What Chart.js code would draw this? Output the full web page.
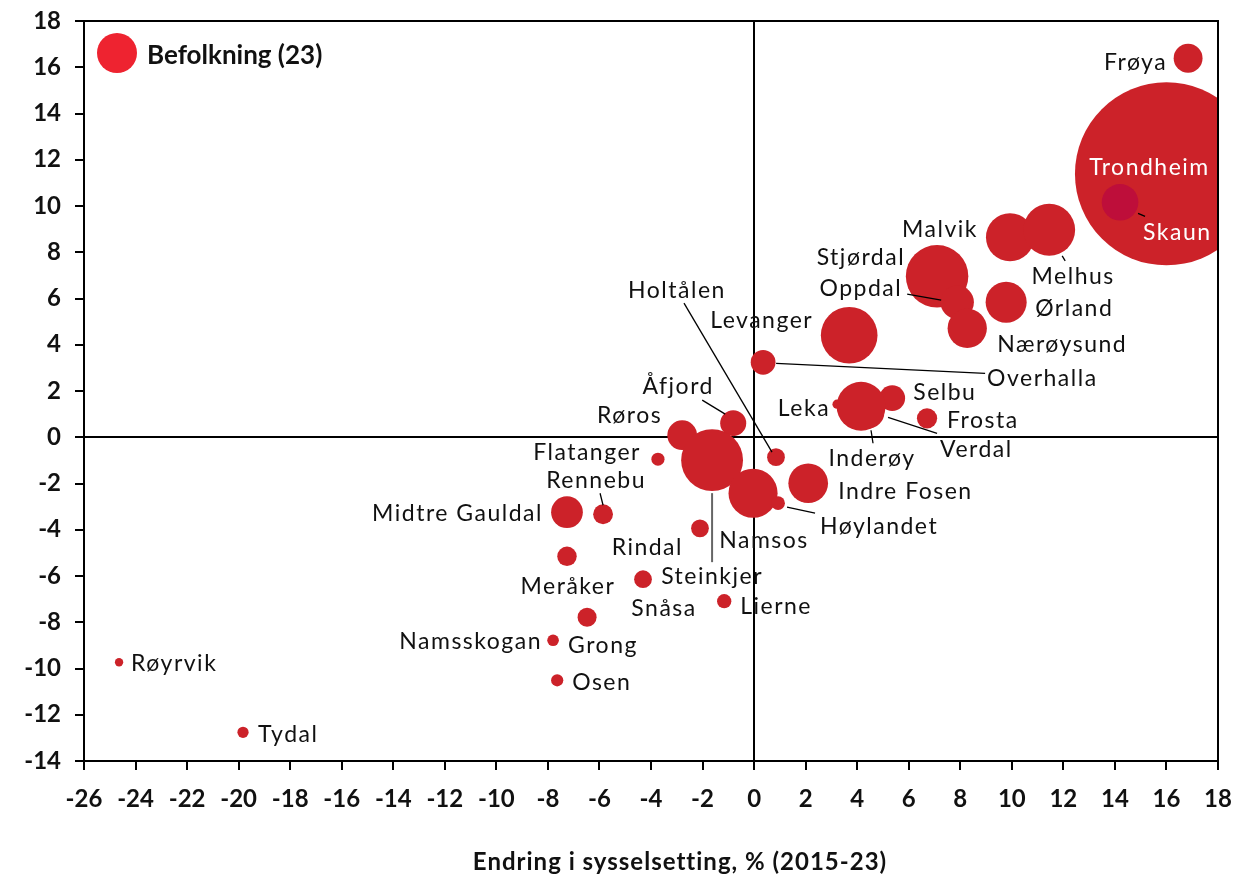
<!DOCTYPE html>
<html><head><meta charset="utf-8">
<script src="https://cdn.jsdelivr.net/npm/chart.js@4/dist/chart.umd.min.js"></script>
<style>html,body{margin:0;padding:0;background:#fff}#wrap{width:1235px;height:878px}</style>
</head><body><div id="wrap"><canvas id="c" width="1235" height="878"></canvas></div>
<script>
// ---- Data ----
const municipalities = ['Trondheim','Frøya','Skaun','Malvik','Melhus','Stjørdal','Oppdal','Ørland','Nærøysund','Levanger','Overhalla','Selbu','Frosta','Leka','Inderøy','Verdal','Åfjord','Røros','Steinkjer','Namsos','Holtålen','Høylandet','Indre Fosen','Flatanger','Midtre Gauldal','Rennebu','Rindal','Meråker','Snåsa','Lierne','Grong','Namsskogan','Osen','Røyrvik','Tydal'];
const employmentChange = [16.0,16.84,14.2,9.93,11.45,7.1,7.88,9.78,8.27,3.69,0.35,5.36,6.71,3.22,4.42,4.15,-0.81,-2.79,-1.63,-0.04,0.85,0.93,2.1,-3.73,-7.26,-5.86,-2.1,-7.26,-4.31,-1.16,-6.48,-7.8,-7.64,-24.64,-19.83];
const populationChange = [11.39,16.39,10.16,8.65,8.97,6.96,5.84,5.84,4.71,4.41,3.24,1.69,0.82,1.43,1.08,1.34,0.61,0.09,-0.99,-2.42,-0.86,-2.85,-1.99,-0.95,-3.24,-3.33,-3.94,-5.15,-6.14,-7.09,-7.78,-8.78,-10.51,-9.73,-12.76];
const population2023 = [212700,5300,8500,14700,17100,24800,7100,10700,9800,20400,3900,4200,2600,550,6800,15200,4300,5600,24300,15300,2000,1200,10000,1100,6400,2500,2000,2400,2000,1300,2300,860,950,440,800];
const xRange = [-26, 18];
const yRange = [-14, 18];
const tickStep = 2;
const legendLabel = 'Befolkning (23)';
const xAxisTitle = 'Endring i sysselsetting, % (2015-23)';

// ---- Layout / style (label placement in pixels relative to bubble) ----
const labelLayout = {
  'Frøya':{dx:-21,dy:4,align:'right'},
  'Trondheim':{dx:-17,dy:-6,align:'center',color:'#fff'},
  'Skaun':{dx:23,dy:30,align:'left',color:'#fff',line:[18,11,25,14]},
  'Malvik':{dx:-32,dy:-8,align:'right'},
  'Melhus':{dx:24,dy:47,align:'center',line:[13,26,16,31]},
  'Stjørdal':{dx:-32,dy:-19,align:'right'},
  'Oppdal':{dx:-55,dy:-14,align:'right',line:[-50,-8,-16,-2]},
  'Ørland':{dx:29,dy:6,align:'left'},
  'Nærøysund':{dx:30,dy:16,align:'left'},
  'Levanger':{dx:-36,dy:-15,align:'right'},
  'Overhalla':{dx:224,dy:16,align:'left',line:[13,1,222,11]},
  'Holtålen':{dx:-99,dy:-167,align:'center',line:[-92,-154,-4,-5]},
  'Selbu':{dx:21,dy:-6,align:'left'},
  'Frosta':{dx:20,dy:2,align:'left'},
  'Leka':{dx:-7,dy:4,align:'right'},
  'Verdal':{dx:79,dy:43,align:'left',line:[27,11,76,27]},
  'Inderøy':{dx:4,dy:46,align:'center',line:[3,18,5,31]},
  'Åfjord':{dx:-55,dy:-37,align:'center',line:[-31,-23,-8,-9]},
  'Røros':{dx:-20,dy:-20,align:'right'},
  'Steinkjer':{dx:0,dy:116,align:'center',line:[0,33,0,102],lineColor:'#666'},
  'Namsos':{dx:11,dy:47,align:'center'},
  'Høylandet':{dx:42,dy:23,align:'left',line:[9,4,37,10]},
  'Indre Fosen':{dx:30,dy:8,align:'left'},
  'Flatanger':{dx:-17,dy:-7,align:'right'},
  'Midtre Gauldal':{dx:-24,dy:1,align:'right'},
  'Rennebu':{dx:-7,dy:-34,align:'center',line:[-3,-21,0,-9]},
  'Rindal':{dx:-17,dy:19,align:'right'},
  'Meråker':{dx:1,dy:30,align:'center'},
  'Snåsa':{dx:21,dy:29,align:'center'},
  'Lierne':{dx:16,dy:5,align:'left'},
  'Grong':{dx:-19,dy:28,align:'left'},
  'Namsskogan':{dx:-11,dy:1,align:'right'},
  'Osen':{dx:15,dy:2,align:'left'},
  'Røyrvik':{dx:12,dy:1,align:'left'},
  'Tydal':{dx:15,dy:2,align:'left'}
};
const radiusScale = 0.1984;
const bubbleColor = '#CC2229';
const specialColors = {'Skaun':'#BE0E3A'};
const LABEL_FONT = '23px Lato';
const LABEL_SPACING = '1.5px';
const TICK_FONT = {family:'Lato', size:24, weight:'bold'};

const points = municipalities.map((m,i)=>({x:employmentChange[i], y:populationChange[i], r:Math.sqrt(population2023[i])*radiusScale}));

const overlay = {
  id:'overlay',
  beforeDatasetsDraw(chart){
    const {ctx, chartArea:a, scales:{x,y}} = chart;
    ctx.save();
    ctx.strokeStyle='#000'; ctx.lineWidth=2;
    const x0=Math.round(x.getPixelForValue(0)), y0=Math.round(y.getPixelForValue(0));
    ctx.beginPath();
    ctx.moveTo(x0,a.top); ctx.lineTo(x0,a.bottom);
    ctx.moveTo(a.left,y0); ctx.lineTo(a.right,y0);
    ctx.stroke();
    ctx.restore();
  },
  afterDatasetsDraw(chart){
    const {ctx, chartArea:a} = chart;
    const meta = chart.getDatasetMeta(0);
    ctx.save();
    ctx.strokeStyle='#000'; ctx.lineWidth=2;
    ctx.strokeRect(a.left,a.top,a.right-a.left,a.bottom-a.top);
    ctx.font = LABEL_FONT;
    ctx.letterSpacing = LABEL_SPACING;
    ctx.textBaseline='middle';
    municipalities.forEach((m,i)=>{
      const el = meta.data[i]; const L = labelLayout[m]; if(!L) return;
      if(L.line){
        ctx.strokeStyle = L.lineColor || '#000';
        ctx.lineWidth = L.lineColor ? 2 : 1.3;
        ctx.beginPath();
        ctx.moveTo(el.x+L.line[0], el.y+L.line[1]);
        ctx.lineTo(el.x+L.line[2], el.y+L.line[3]);
        ctx.stroke();
      }
      ctx.fillStyle = L.color || '#111';
      ctx.textAlign = L.align;
      ctx.fillText(m, el.x+L.dx, el.y+L.dy);
    });
    ctx.letterSpacing = '0px';
    ctx.fillStyle='#EE2330';
    ctx.beginPath(); ctx.arc(117,53,20,0,Math.PI*2); ctx.fill();
    ctx.fillStyle='#111'; ctx.textAlign='left';
    ctx.font='bold 26px Lato';
    ctx.fillText(legendLabel,147,56);
    ctx.font='bold 24px Lato'; ctx.textAlign='center';
    ctx.letterSpacing = '1px';
    ctx.fillText(xAxisTitle,680,862);
    ctx.restore();
  }
};

new Chart(document.getElementById('c'), {
  type:'bubble',
  data:{ labels:municipalities, datasets:[{
    data:points,
    backgroundColor:municipalities.map(m=>specialColors[m]||bubbleColor),
    borderWidth:0, hoverBorderWidth:0, clip:0
  }]},
  options:{
    responsive:false, animation:false, devicePixelRatio:1, events:[],
    layout:{autoPadding:false, padding:{left:0,right:17,top:21,bottom:0}},
    plugins:{legend:{display:false}, tooltip:{enabled:false}},
    scales:{
      x:{type:'linear', min:xRange[0], max:xRange[1],
        ticks:{stepSize:tickStep, font:TICK_FONT, color:'#111', padding:15, maxRotation:0, autoSkip:false},
        grid:{drawOnChartArea:false, drawTicks:true, tickLength:9, color:'#000', lineWidth:2},
        border:{display:true, color:'#000', width:2},
        afterFit(s){ s.height = 117; s.paddingLeft=0; s.paddingRight=0; }
      },
      y:{type:'linear', min:yRange[0], max:yRange[1],
        ticks:{stepSize:tickStep, font:TICK_FONT, color:'#111', padding:14, autoSkip:false},
        grid:{drawOnChartArea:false, drawTicks:true, tickLength:9, color:'#000', lineWidth:2},
        border:{display:true, color:'#000', width:2},
        afterFit(s){ s.width = 84; s.paddingTop=0; s.paddingBottom=0; }
      }
    }
  },
  plugins:[overlay]
});
</script></body></html>
